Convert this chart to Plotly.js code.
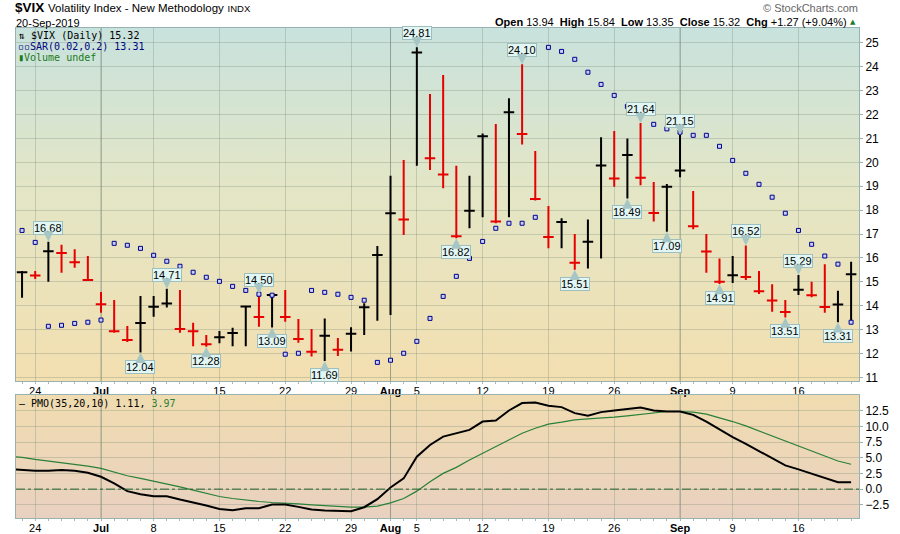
<!DOCTYPE html>
<html><head><meta charset="utf-8">
<script src="https://cdn.plot.ly/plotly-3.0.1.min.js"></script>
<style>html,body{margin:0;padding:0;background:#fff}#chart{width:900px;height:534px}</style>
</head><body><div id="chart"></div>
<script>
// ---- data ----
const dates = ['2019-06-21','2019-06-24','2019-06-25','2019-06-26','2019-06-27','2019-06-28',
 '2019-07-01','2019-07-02','2019-07-03','2019-07-05','2019-07-08','2019-07-09','2019-07-10','2019-07-11','2019-07-12',
 '2019-07-15','2019-07-16','2019-07-17','2019-07-18','2019-07-19','2019-07-22','2019-07-23','2019-07-24','2019-07-25','2019-07-26',
 '2019-07-29','2019-07-30','2019-07-31','2019-08-01','2019-08-02','2019-08-05','2019-08-06','2019-08-07','2019-08-08','2019-08-09',
 '2019-08-12','2019-08-13','2019-08-14','2019-08-15','2019-08-16','2019-08-19','2019-08-20','2019-08-21','2019-08-22','2019-08-23',
 '2019-08-26','2019-08-27','2019-08-28','2019-08-29','2019-08-30','2019-09-03','2019-09-04','2019-09-05','2019-09-06',
 '2019-09-09','2019-09-10','2019-09-11','2019-09-12','2019-09-13','2019-09-16','2019-09-17','2019-09-18','2019-09-19','2019-09-20'];
const high = [15.45,15.45,16.68,16.55,16.36,16.08,14.57,14.24,13.15,14.41,14.41,14.71,14.66,13.29,12.77,
 12.94,13.08,13.99,14.50,14.47,14.66,13.44,13.03,13.47,12.65,13.10,14.10,16.50,19.44,20.10,
 24.81,22.86,23.65,19.86,19.44,21.21,21.60,22.68,24.10,20.47,18.17,17.66,17.00,17.61,21.05,
 21.31,21.00,21.64,19.18,19.09,21.15,18.80,17.00,15.98,16.08,16.52,15.45,14.90,14.24,
 15.29,15.00,15.74,14.63,15.84];
const low = [14.33,15.12,15.00,15.38,15.59,15.03,13.71,12.87,12.48,12.04,13.54,13.93,12.87,12.30,12.28,
 12.43,12.30,12.30,13.12,13.09,13.33,12.45,11.87,11.69,11.90,12.08,12.77,13.37,13.61,16.96,
 19.86,19.68,18.91,16.82,17.24,17.70,17.45,17.70,20.75,18.40,16.40,16.40,15.51,15.56,15.98,
 18.98,18.49,19.04,17.52,17.09,19.37,17.20,15.38,14.91,14.95,15.08,14.49,13.75,13.51,
 14.45,14.35,13.71,13.31,13.35];
const close = [15.40,15.26,16.28,16.21,15.82,15.08,14.06,12.93,12.57,13.28,13.96,14.09,13.03,12.93,12.39,
 12.68,12.86,13.97,13.53,14.45,13.53,12.61,12.07,12.74,12.16,12.83,13.94,16.12,17.87,17.61,
 24.59,20.17,19.49,16.91,17.97,21.09,17.52,22.10,21.18,18.47,16.88,17.50,15.80,16.68,19.87,
 19.32,20.31,19.35,17.88,18.98,19.66,17.33,16.27,15.00,15.27,15.20,14.61,14.22,13.74,
 14.67,14.44,13.95,14.05,15.32];
const prevClose = 14.75;
const lastOpen = 13.94;
const sar = [17.15,16.65,13.14,13.18,13.26,13.31,13.40,16.61,16.53,16.40,16.11,15.86,15.65,15.40,15.19,
 15.02,14.81,14.64,14.48,14.44,11.97,12.01,14.64,14.56,14.48,14.35,14.23,11.63,11.72,12.01,
 12.51,13.47,14.39,15.23,15.98,16.69,17.24,17.45,17.45,17.70,24.81,24.64,24.31,23.77,23.26,
 22.80,22.34,21.95,21.59,21.40,21.26,21.13,21.13,20.67,20.08,19.54,19.08,18.54,17.87,
 17.15,16.57,16.08,15.74,13.31];
// PMO values start one session before the first bar (Jun 20)
const pmoStart = -1;
const pmo = [3.20,3.04,2.93,2.93,3.04,2.93,2.61,1.97,0.91,-0.32,-0.80,-1.12,-1.12,-1.65,-2.08,-2.61,
 -3.15,-3.36,-3.04,-3.04,-2.45,-2.45,-2.83,-3.25,-3.41,-3.52,-3.52,-2.88,-1.60,0.27,1.71,
 5.17,7.04,8.37,8.91,9.44,10.77,10.93,12.53,13.71,13.81,13.28,13.07,12.11,11.68,12.27,
 12.53,12.80,13.01,12.53,12.37,12.37,11.84,10.77,9.55,8.27,7.20,6.08,4.91,3.79,
 3.15,2.51,1.87,1.11,1.11];
const pmoSignal = [5.20,5.07,4.75,4.48,4.21,4.00,3.68,3.31,2.72,2.13,1.71,1.28,0.80,0.37,-0.16,-0.69,
 -1.17,-1.49,-1.76,-1.97,-2.13,-2.19,-2.35,-2.51,-2.67,-2.77,-2.88,-2.88,-2.72,-2.19,-1.49,
 -0.32,1.17,2.51,3.47,4.64,5.71,6.77,7.84,8.91,9.71,10.35,10.67,11.04,11.20,11.31,
 11.47,11.68,11.90,12.21,12.37,12.37,12.27,11.95,11.41,10.77,10.08,9.28,8.48,7.68,
 6.77,6.08,5.28,4.48,3.97];
const hiLabelIdx = [2,11,18,30,38,47,50,55,59];
const loLabelIdx = [9,14,19,23,33,42,46,49,53,58,62];
const tickIdx = [1,6,10,15,20,25,28,30,35,40,45,50,54,59];
const tickText = ['24','<b>Jul</b>','8','15','22','29','<b>Aug</b>','5','12','19','26','<b>Sep</b>','9','16'];
const monthIdx = [6,28,50];

// ---- build ----
const idx = dates.map((d,i)=>i);
const pmoX = pmo.map((v,i)=>i+pmoStart);
const upI=[], dnI=[];
close.forEach((c,i)=>{ const p = i===0?prevClose:close[i-1]; (c>=p?upI:dnI).push(i); });
const pick=(a,ids)=>ids.map(i=>a[i]);
function ohlcTrace(ids,color){
  return {type:'ohlc', x:pick(idx,ids), open:pick(close,ids), high:pick(high,ids), low:pick(low,ids), close:pick(close,ids),
    xaxis:'x', yaxis:'y', tickwidth:0.4, increasing:{line:{color:color,width:2}}, decreasing:{line:{color:color,width:2}},
    hoverinfo:'skip', showlegend:false};
}
const traces = [
  ohlcTrace(upI,'#000000'),
  ohlcTrace(dnI,'#e60000'),
  {type:'scatter', mode:'markers', x:idx, y:sar, xaxis:'x', yaxis:'y',
   marker:{symbol:'square', size:4, color:'#c8d0ff', line:{color:'#00008a', width:1}}, hoverinfo:'skip', showlegend:false},
  {type:'scatter', mode:'lines', x:pmoX, y:pmoSignal, xaxis:'x2', yaxis:'y2', line:{color:'#2a8038', width:1.2}, hoverinfo:'skip', showlegend:false},
  {type:'scatter', mode:'lines', x:pmoX, y:pmo, xaxis:'x2', yaxis:'y2', line:{color:'#000000', width:2}, hoverinfo:'skip', showlegend:false}
];

const L=16,R=859,T=28,B=518,W=R-L,H=B-T;
const fx=p=>(p-L)/W, fy=p=>(B-p)/H;
const mainBottom=fy(381), lowerTop=fy(395);
const ff='Liberation Sans, Arial, sans-serif';
const mono='DejaVu Sans Mono, monospace';

const ann=[];
const callout={showarrow:true,arrowhead:2,arrowsize:1.3,arrowwidth:1.6,arrowcolor:'#a6c6c6',standoff:0,ax:0,
  bgcolor:'#e2f6f4',bordercolor:'#9fbfbf',borderwidth:1,borderpad:0,font:{family:ff,size:11,color:'#000'},xref:'x',yref:'y'};
hiLabelIdx.forEach(i=>{
  ann.push(Object.assign({},callout,{x:i,y:high[i],text:high[i].toFixed(2),ay:-14}));
});
loLabelIdx.forEach(i=>{
  ann.push(Object.assign({},callout,{x:i,y:low[i],text:low[i].toFixed(2),ay:14}));
});
const n=close.length-1;
const chg=close[n]-close[n-1];
const pct=chg/close[n-1]*100;
const sgn=v=>(v>=0?'+':'')+v.toFixed(2);
const mon=['Jan','Feb','Mar','Apr','May','Jun','Jul','Aug','Sep','Oct','Nov','Dec'];
ann.push(
 {xref:'paper',yref:'paper',x:fx(14),y:fy(8),xanchor:'left',yanchor:'middle',showarrow:false,borderpad:0,
  text:"<b>$VIX</b> <span style='font-size:11.5px'>Volatility Index - New Methodology</span> <span style='font-size:9.5px'>INDX</span>",
  font:{family:ff,size:13.5,color:'#000'}},
 {xref:'paper',yref:'paper',x:fx(15),y:fy(23),xanchor:'left',yanchor:'middle',showarrow:false,borderpad:0,
  text:dates[n].slice(8)+'-'+mon[+dates[n].slice(5,7)-1]+'-'+dates[n].slice(0,4),font:{family:ff,size:11,color:'#000'}},
 {xref:'paper',yref:'paper',x:fx(859),y:fy(8),xanchor:'right',yanchor:'middle',showarrow:false,borderpad:0,
  text:'© StockCharts.com',font:{family:ff,size:11,color:'#666'}},
 {xref:'paper',yref:'paper',x:fx(848),y:fy(22.5),xanchor:'right',yanchor:'middle',showarrow:false,borderpad:0,
  text:'<b>Open</b> '+lastOpen.toFixed(2)+'  <b>High</b> '+high[n].toFixed(2)+'  <b>Low</b> '+low[n].toFixed(2)+
       '  <b>Close</b> '+close[n].toFixed(2)+'  <b>Chg</b> '+sgn(chg)+' ('+sgn(pct)+'%)',
  font:{family:ff,size:11,color:'#000'}},
 {xref:'paper',yref:'paper',x:fx(853),y:fy(22),xanchor:'center',yanchor:'middle',showarrow:false,
  text:'▲',font:{family:'DejaVu Sans',size:7,color:'#1a7a2a'}},
 {xref:'paper',yref:'paper',x:fx(17),y:fy(36),xanchor:'left',yanchor:'middle',showarrow:false,borderpad:0,
  text:'⇅ $VIX (Daily) '+close[n].toFixed(2),font:{family:mono,size:10,color:'#000'}},
 {xref:'paper',yref:'paper',x:fx(17),y:fy(46.5),xanchor:'left',yanchor:'middle',showarrow:false,borderpad:0,
  text:'▫▫SAR(0.02,0.2) '+sar[n].toFixed(2),font:{family:mono,size:10,color:'#000080'}},
 {xref:'paper',yref:'paper',x:fx(17),y:fy(57),xanchor:'left',yanchor:'middle',showarrow:false,borderpad:0,
  text:'▮Volume undef',font:{family:mono,size:10,color:'#1a7a1a'}},
 {xref:'paper',yref:'paper',x:fx(17),y:fy(403),xanchor:'left',yanchor:'middle',showarrow:false,
  text:"— PMO(35,20,10) "+pmo[pmo.length-1].toFixed(2)+", <span style='color:#2a8038'>"+pmoSignal[pmoSignal.length-1].toFixed(2)+"</span>",
  font:{family:mono,size:10,color:'#000'}}
);

const shapes = monthIdx.map(i=>({type:'line',xref:'x',yref:'y domain',x0:i,x1:i,y0:0,y1:1,line:{color:'rgba(110,125,110,0.55)',width:1},layer:'below'}))
 .concat(monthIdx.map(i=>({type:'line',xref:'x2',yref:'y2 domain',x0:i,x1:i,y0:0,y1:1,line:{color:'rgba(110,125,110,0.55)',width:1},layer:'below'})))
 .concat([{type:'line',xref:'x2 domain',yref:'y2',x0:0,x1:1,y0:0,y1:0,line:{color:'#1f5f2a',width:1,dash:'dashdot'}}]);

function grad(stops){
  const s='<svg xmlns="http://www.w3.org/2000/svg" width="10" height="100" preserveAspectRatio="none"><defs><linearGradient id="g" x1="0" y1="0" x2="0" y2="1">'+
   stops.map(a=>'<stop offset="'+a[0]+'" stop-color="'+a[1]+'"/>').join('')+'</linearGradient></defs><rect width="10" height="100" fill="url(#g)"/></svg>';
  return 'data:image/svg+xml;charset=utf-8,'+encodeURIComponent(s);
}
const images=[
 {source:grad([[0,'#c8e2dd'],[0.45,'#e3e6c6'],[1,'#f3dfb0']]),xref:'paper',yref:'paper',x:0,y:1,sizex:1,sizey:1-mainBottom,xanchor:'left',yanchor:'top',sizing:'stretch',layer:'below'},
 {source:grad([[0,'#f0dcb0'],[1,'#e9d1c0']]),xref:'paper',yref:'paper',x:0,y:lowerTop,sizex:1,sizey:lowerTop,xanchor:'left',yanchor:'top',sizing:'stretch',layer:'below'}
];

const gridc='rgba(120,140,120,0.32)';
const framec='#98b2b2';
const xcommon={range:[-0.46,63.6],tickmode:'array',tickvals:tickIdx,ticktext:tickText,showgrid:true,gridcolor:gridc,
  ticks:'',tickfont:{family:ff,size:11,color:'#000'},showline:true,mirror:true,linecolor:framec,zeroline:false,
  minor:{dtick:1,tick0:0,ticks:'outside',ticklen:2,tickcolor:'#a8b8b8',showgrid:false},fixedrange:true};
const layout={
  width:900,height:534,margin:{l:L,r:900-R,t:T,b:534-B},paper_bgcolor:'#ffffff',plot_bgcolor:'rgba(0,0,0,0)',
  showlegend:false,
  xaxis:Object.assign({},xcommon,{domain:[0,1],anchor:'y',rangeslider:{visible:false}}),
  xaxis2:Object.assign({},xcommon,{domain:[0,1],anchor:'y2',matches:'x'}),
  yaxis:{domain:[mainBottom,1],anchor:'x',side:'right',range:[10.85,25.62],dtick:1,tick0:0,showgrid:true,gridcolor:gridc,
    ticks:'outside',ticklen:3,tickcolor:framec,tickfont:{family:ff,size:12,color:'#000'},showline:true,mirror:true,linecolor:framec,zeroline:false,fixedrange:true},
  yaxis2:{domain:[0,lowerTop],anchor:'x2',side:'right',range:[-4.6,15.0],tickmode:'array',tickvals:[-2.5,0,2.5,5,7.5,10,12.5],tickformat:'.1f',
    showgrid:true,gridcolor:gridc,ticks:'outside',ticklen:3,tickcolor:framec,tickfont:{family:ff,size:12,color:'#000'},showline:true,mirror:true,linecolor:framec,zeroline:false,fixedrange:true},
  annotations:ann, shapes:shapes, images:images
};
Plotly.newPlot('chart',traces,layout,{staticPlot:true,displayModeBar:false});
</script></body></html>
